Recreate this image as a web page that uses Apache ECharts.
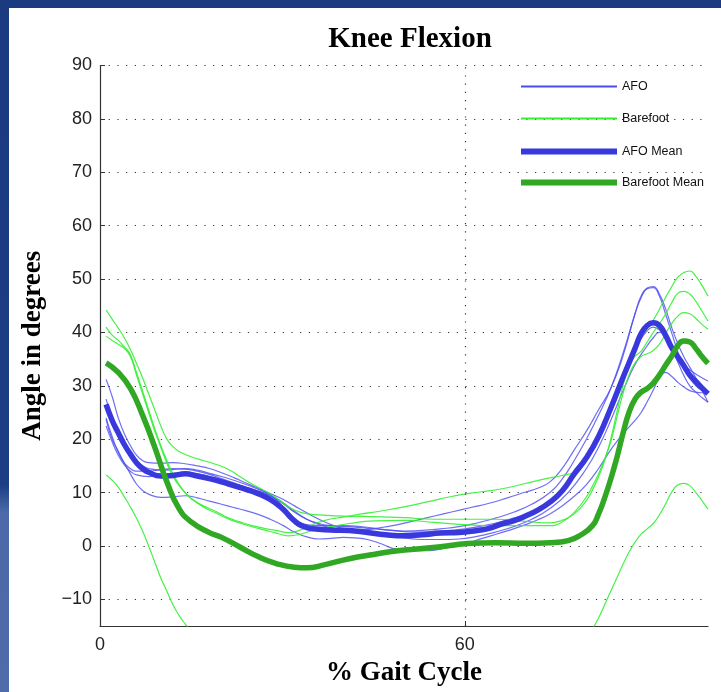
<!DOCTYPE html>
<html>
<head>
<meta charset="utf-8">
<script src="https://cdn.jsdelivr.net/npm/echarts@6/dist/echarts.min.js"></script>
<style>html,body{margin:0;padding:0;background:#fff;}#c{width:721px;height:692px;}</style>
</head>
<body>
<div id="c"></div>
<script>
// ---- Data (x = % gait cycle, y = knee flexion angle in degrees) ----
const xTicks = [0, 60];
const yTicks = [-10, 0, 10, 20, 30, 40, 50, 60, 70, 80, 90];

const afo1 = [[1,31.2],[2,28],[3,24],[4,21],[5,18.8],[6,17],[7,16],[8,15.6],[10,15.5],[12,15.6],[14,15.4],[16,15],[18,14.5],[20,13.7],[22,12.8],[24,11.8],[26,10.8],[28,9.8],[30,8.8],[32,7.5],[34,6.2],[36,5],[38,4],[40,3.3],[43,3],[46,3.4],[49,4],[52,4.8],[55,5.6],[58,6.4],[61,7.2],[64,8],[67,9],[70,10.1],[72,10.8],[74,12],[76,14.5],[78,18],[80,21.5],[82,25.5],[84,29.5],[86,35.5],[88,43.5],[89,46.5],[90,48.3],[91,48.6],[92,47.2],[93,44.5],[94,41],[95,38],[96,35.5],[97,33.5],[98,31.5],[99,29.2],[100,26.9]];
const afo2 = [[1,24],[2,20.5],[3,17.5],[4,15.5],[5,14.5],[6,14],[8,14],[10,14.3],[12,14.5],[14,14.4],[16,14],[18,13.4],[20,12.6],[22,11.8],[24,11],[26,10.2],[28,9.3],[30,8],[32,6.3],[34,5],[36,4.2],[38,3.8],[41,3.6],[44,3.3],[47,3],[50,2.8],[53,2.9],[56,3.2],[59,3.6],[62,4.3],[65,5.2],[68,6.3],[71,7.8],[74,10],[76,12.5],[78,16],[80,20],[82,24.5],[84,29.5],[86,36],[88,43.5],[89,46.8],[90,48.2],[91,48.4],[92,46.8],[93,43.5],[94,40],[95,36.5],[96,33.5],[97,31.5],[98,30],[99,29.2],[100,28.7]];
const afo3 = [[1,27.5],[2,24],[3,21.5],[4,19.5],[5,17.5],[6,16],[7,15],[8,14.5],[10,14.2],[12,14.3],[14,14.5],[16,14.2],[18,13.6],[20,13],[22,12.3],[24,11.5],[26,10.6],[28,9.6],[30,7.5],[32,5],[34,4],[36,3.8],[40,3.8],[44,3.5],[48,2.9],[52,2.6],[56,2.8],[60,3.2],[64,4],[68,5.2],[72,7],[75,9.5],[78,13],[80,16],[82,20],[84,25],[86,31],[88,36.5],[89,38.8],[90,40.3],[91,41],[92,40.5],[93,39],[94,37],[95,35.3],[96,34],[97,33],[98,32.2],[99,31.5],[100,30.9]];
const afo4 = [[1,23.7],[2,20],[3,17.8],[4,15.5],[5,13.5],[6,11.6],[7,10.4],[8,9.7],[10,9.1],[12,9.2],[14,9.4],[16,9],[18,8.4],[20,7.8],[22,7.2],[24,6.6],[26,5.9],[28,5],[30,3.9],[32,2.6],[34,1.7],[36,1.3],[38,1.4],[40,1.6],[42,1.5],[44,1.2],[46,0.5],[48,-0.4],[50,-0.8],[52,-0.9],[54,-0.9],[56,-0.6],[58,-0.1],[60,0.3],[62,1.1],[64,1.8],[66,2.5],[68,3.2],[70,4],[72,4.9],[74,6],[76,7.5],[78,9.3],[80,11.5],[82,14.5],[84,18],[86,21],[88,23.5],[89,25],[90,27],[91,29.2],[92,31.5],[93,32.5],[94,31.8],[95,30.7],[96,29.8],[97,29.1],[98,28.8],[99,28.7],[100,28.7]];
const afo5 = [[1,22.5],[2,19.5],[3,17],[4,15.2],[5,14],[6,13.3],[8,13],[10,13.2],[12,13.6],[14,13.8],[16,13.5],[18,13],[20,12.4],[22,11.7],[24,11],[26,10.3],[28,9.5],[30,8.2],[32,6.5],[34,5],[36,4],[38,3.4],[41,3],[44,2.6],[47,2],[50,1.5],[53,1.2],[56,1.2],[59,1.3],[62,1.8],[65,2.6],[68,3.6],[71,5],[74,7],[77,10],[80,14.5],[82,18.5],[84,23.5],[86,29],[88,34],[90,37.5],[91,39],[92,40],[93,39.5],[94,37],[95,34.5],[96,32],[97,30],[98,28.8],[99,27.8],[100,26.9]];

const bare1 = [[1,44.2],[2,42.5],[3,40.8],[4,39],[5,36.8],[6,34.2],[7,31.5],[8,28.5],[9,25.5],[10,22.5],[11,20],[12,18.6],[13,17.7],[15,16.7],[17,16],[19,15.3],[21,14.4],[23,13],[25,11.6],[27,10.4],[29,9],[31,7.3],[33,6.3],[36,5.8],[40,5.6],[45,5.5],[50,5.3],[55,5],[60,5],[65,5],[70,4.6],[74,4.3],[76,4.8],[78,6],[80,8.5],[81,10.5],[82,13],[83,16],[84,20],[85,25],[86,30],[87,34],[88,37.2],[89,39.2],[90,40.7],[91,42.3],[92,44.3],[93,46.5],[94,48.5],[95,50.3],[96,51.2],[97,51.5],[98,50.5],[99,48.8],[100,46.8]];
const bare2 = [[1,41],[2,39.5],[3,38.5],[4,37.3],[5,35.8],[6,32.5],[7,29],[8,25.5],[9,22],[10,18.8],[11,16],[12,13.5],[13,11.5],[14,10],[15,8.9],[17,7.5],[19,6.5],[21,5.3],[23,4.5],[25,3.8],[27,3.3],[29,2.9],[31,2.5],[33,3],[35,4],[37,4.8],[40,5.4],[43,6],[46,6.5],[50,7.3],[54,8.3],[58,9.3],[61,9.9],[64,10.3],[67,10.9],[70,11.7],[73,12.5],[76,13.2],[78,13.8],[79,14.8],[80,16.5],[81,18.2],[82,20],[83,22.5],[84,25.5],[85,29],[86,32],[87,34],[88,35.5],[89,36.5],[90,38.2],[91,40],[92,41.6],[93,43.4],[94,45.5],[95,47.3],[96,47.7],[97,47.2],[98,45.8],[99,44],[100,42.1]];
const bare3 = [[1,39.3],[2,38.5],[3,37.8],[4,37],[5,35.5],[6,32],[7,28.5],[8,25],[9,21.5],[10,18.5],[11,15.5],[12,13],[13,11.3],[14,10],[15,8.9],[17,7.3],[19,6.2],[21,5.1],[23,4.3],[25,3.6],[27,3],[29,2.4],[31,1.9],[33,2.2],[35,2.9],[38,3.6],[41,4.2],[45,4.7],[50,4.8],[55,4.4],[60,4],[65,3.8],[70,3.8],[74,3.8],[76,4.5],[78,6.3],[80,9.2],[81,11.2],[82,13.5],[83,16.3],[84,19.5],[85,24],[86,28.5],[87,32],[88,34.3],[89,35.5],[90,36],[91,36.6],[92,37.8],[93,39.7],[94,41.6],[95,43],[96,43.7],[97,43.5],[98,42.6],[99,41.5],[100,40.6]];
const bare4 = [[1,13.3],[2,12.3],[3,11],[4,9.2],[5,7.3],[6,5.2],[7,2.8],[8,0],[9,-3],[10,-6],[11,-8.5],[12,-11],[13,-13],[14,-14.6],[15,-16],[17,-18.5],[20,-21],[25,-23],[30,-24],[40,-25],[50,-25],[60,-24.5],[70,-23],[76,-21],[79,-18.5],[81,-15.5],[82,-13.5],[83,-11],[84,-8.5],[85,-6],[86,-3.5],[87,-1.2],[88,0.7],[89,2.2],[90,3.2],[91,4.2],[92,5.8],[93,7.8],[94,10],[95,11.4],[96,11.7],[97,11.3],[98,10],[99,8.5],[100,6.9]];

const afoMean = [[1,26.5],[2,23.5],[3,21.2],[4,19],[5,17.2],[6,15.6],[7,14.5],[8,13.8],[10,13.1],[12,13.2],[14,13.5],[16,13.1],[18,12.6],[20,12],[22,11.3],[24,10.6],[26,9.8],[28,8.7],[30,7],[31,5.8],[32,4.7],[33,3.9],[35,3.2],[38,3],[41,2.9],[44,2.5],[47,2.1],[50,1.9],[53,2.1],[56,2.4],[59,2.5],[62,2.9],[64,3.3],[66,4.1],[68,4.7],[70,5.6],[72,6.7],[74,8.2],[76,10.3],[78,13.5],[80,16.5],[82,20.5],[84,25.8],[86,31.5],[88,37],[89,39.8],[90,41.3],[91,41.8],[92,41.3],[93,39.5],[94,37.2],[95,35.5],[96,33.8],[97,32],[98,30.8],[99,29.6],[100,28.5]];
const bareMean = [[1,34.3],[3,32.5],[5,29.5],[7,24.5],[9,18.5],[11,12],[13,7],[15,4.5],[18,2.5],[20,1.6],[23,-0.2],[26,-2],[29,-3.3],[32,-4],[34,-4.1],[37,-3.5],[41,-2.4],[45,-1.6],[49,-0.9],[53,-0.5],[57,0],[60,0.4],[65,0.6],[70,0.5],[74,0.6],[77,1],[79,2],[81,3.8],[82,6],[83,9],[84,12.5],[85,16.5],[86,21],[87,25],[88,27.5],[89,28.8],[90,29.5],[91,30.5],[92,32],[93,33.8],[94,35.5],[95,37.5],[96,38.4],[97,38.2],[98,37],[99,35.5],[100,34.2]];

const afoTrials = [afo1, afo2, afo3, afo4, afo5];
const bareTrials = [bare1, bare2, bare3, bare4];

// ---- Styles ----
const C_AFO = '#4a4af2';
const C_BARE = '#33f033';
const C_AFO_MEAN = '#3838dc';
const C_BARE_MEAN = '#31a823';
const serif = '"Liberation Serif", "Times New Roman", serif';
const sans = '"Liberation Sans", Arial, sans-serif';

const series = [];
afoTrials.forEach(d => series.push({
  name: 'AFO', type: 'line', data: d, smooth: true, symbol: 'none',
  lineStyle: { color: C_AFO, width: 1.2, opacity: 0.8 }, itemStyle: { color: C_AFO },
  z: 2
}));
bareTrials.forEach(d => series.push({
  name: 'Barefoot', type: 'line', data: d, smooth: true, symbol: 'none',
  lineStyle: { color: C_BARE, width: 1.2, opacity: 0.9 }, itemStyle: { color: C_BARE },
  z: 3
}));
series.push({
  name: 'AFO Mean', type: 'line', data: afoMean, smooth: true, symbol: 'none',
  lineStyle: { color: C_AFO_MEAN, width: 5.5 }, itemStyle: { color: C_AFO_MEAN }, z: 4,
  markLine: {
    silent: true, symbol: 'none', label: { show: false },
    lineStyle: { color: '#333', type: [1.2, 7], width: 1.2 },
    data: [{ xAxis: 60 }]
  }
});
series.push({
  name: 'Barefoot Mean', type: 'line', data: bareMean, smooth: true, symbol: 'none',
  lineStyle: { color: C_BARE_MEAN, width: 5.5 }, itemStyle: { color: C_BARE_MEAN }, z: 5
});

function legendFor(name, color, top, h) {
  return {
    left: 516, top: top, orient: 'vertical', icon: 'rect',
    itemWidth: 96, itemHeight: h, itemGap: 0,
    textStyle: { fontFamily: sans, fontSize: 12.5, color: '#111', padding: [0, 0, 0, 0] },
    data: [{ name: name, itemStyle: { color: color } }],
    selectedMode: false
  };
}

const chart = echarts.init(document.getElementById('c'), null, { renderer: 'canvas' });
chart.setOption({
  animation: false,
  backgroundColor: '#ffffff',
  graphic: [
    { type: 'rect', shape: { x: 0, y: 0, width: 721, height: 8 }, style: { fill: '#1b3a80' }, silent: true },
    { type: 'rect', shape: { x: 0, y: 0, width: 9, height: 692 }, silent: true,
      style: { fill: new echarts.graphic.LinearGradient(0, 0, 0, 1, [
        { offset: 0, color: '#1b3a80' }, { offset: 0.70, color: '#1d3d84' },
        { offset: 0.74, color: '#4b69a8' }, { offset: 1, color: '#4f6caa' }]) } }
  ],
  title: {
    text: 'Knee Flexion', left: 405, top: 20, textAlign: 'center',
    textStyle: { fontFamily: serif, fontWeight: 'bold', fontSize: 29, color: '#000' }
  },
  legend: [
    legendFor('AFO', C_AFO, 75, 2),
    legendFor('Barefoot', C_BARE, 107, 2),
    legendFor('AFO Mean', C_AFO_MEAN, 140, 6),
    legendFor('Barefoot Mean', C_BARE_MEAN, 171, 6)
  ],
  grid: { left: 100, right: 13, top: 65.5, bottom: 65, containLabel: false },
  xAxis: {
    type: 'value', min: 0, max: 100,
    name: '% Gait Cycle', nameLocation: 'middle', nameGap: 34,
    nameTextStyle: { fontFamily: serif, fontWeight: 'bold', fontSize: 27, color: '#000' },
    axisLine: { show: true, onZero: false, lineStyle: { color: '#333', width: 1.2 } },
    axisTick: { show: true, inside: true, length: 5, customValues: xTicks, lineStyle: { color: '#333' } },
    axisLabel: { customValues: xTicks, fontFamily: sans, fontSize: 18, color: '#222', margin: 10 },
    splitLine: { show: false }
  },
  yAxis: {
    type: 'value', min: -15, max: 90,
    name: 'Angle in degrees', nameLocation: 'middle', nameGap: 53, nameRotate: 90,
    nameTextStyle: { fontFamily: serif, fontWeight: 'bold', fontSize: 27, color: '#000' },
    axisLine: { show: true, onZero: false, lineStyle: { color: '#333', width: 1.2 } },
    axisTick: { show: true, inside: true, length: 5, customValues: yTicks, lineStyle: { color: '#333' } },
    axisLabel: {
      customValues: yTicks, fontFamily: sans, fontSize: 18, color: '#222', margin: 8,
      formatter: v => String(v).replace('-', '\u2212')
    },
    splitLine: { show: true, lineStyle: { color: '#333', type: [1.2, 7.5], width: 1.2 } }
  },
  series: series
});
</script>
</body>
</html>
